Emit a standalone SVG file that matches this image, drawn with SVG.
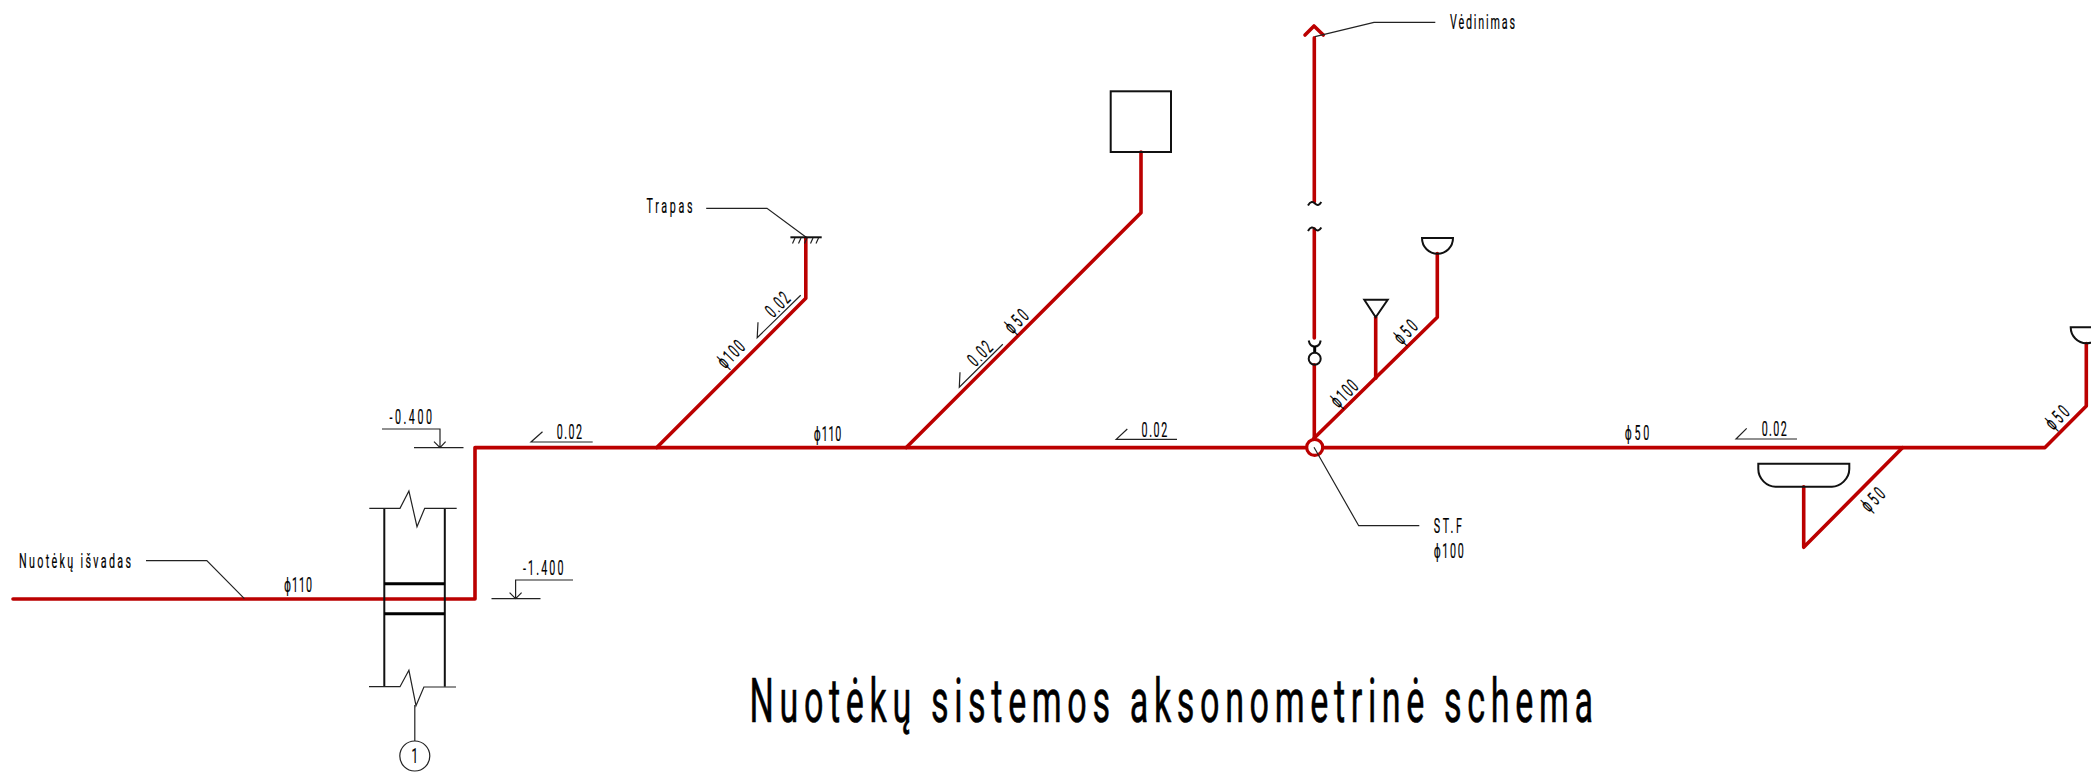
<svg xmlns="http://www.w3.org/2000/svg" width="2091" height="773" viewBox="0 0 2091 773">
<style>
.pipe{fill:none;stroke:#bb0000;stroke-width:3.6;stroke-linejoin:round;stroke-linecap:round}
.obj{fill:none;stroke:#111;stroke-width:2}
.thick{fill:none;stroke:#000;stroke-width:3}
.lead{fill:none;stroke:#222;stroke-width:1.2}
text{font-family:Roboto,"DejaVu Sans",sans-serif;font-size:19.5px;fill:#000;stroke:#000;stroke-width:.2}
.title{font-size:62px;stroke-width:.6}
</style>
<rect width="2091" height="773" fill="#fff"/>
<g id="connectors">
<path class="pipe" d="M13 599H475V447.6H1902.7H2045L2086.3 406V343.5"/>
<path class="pipe" d="M656.8 447.6L805.8 298.3V238"/>
<path class="pipe" d="M906.3 447.6L1141 212.7V152"/>
<path class="pipe" d="M1314.3 37.7V201.7M1314.3 229V338M1314.3 364.7V447.6"/>
<path class="pipe" d="M1305 35L1314 26L1323.3 35"/>
<path class="pipe" d="M1314 438.3L1437.3 317.3V253.5"/>
<path class="pipe" d="M1375.7 378.3V317.3"/>
<path class="pipe" d="M1902.7 447.6L1803.7 547.3V486.7"/>
<path class="lead" d="M146 560.7H206.8L244.4 598.7"/>
<path class="lead" d="M706.2 208.3H767L805.8 237"/>
<path class="lead" d="M1315 36.7L1374 22.3H1435.3"/>
<path class="lead" d="M1314 447.3L1358.7 525.7H1419.3"/>
<path class="lead" d="M414.8 705V741"/>
</g>
<g id="level-0400">
<path class="lead" d="M382 429H440V447.7M414 447.7H463.5M434 441.7L440 447.7L445.6 441.7"/>
<text transform="translate(389.5 424) scale(.55 1)" textLength="77.2">-0.400</text>
</g>
<g id="level-1400">
<path class="lead" d="M573 580H515.6V598.7M491.5 598.7H540.5M509.6 592.7L515.6 598.7L521.6 592.7"/>
<text transform="translate(523 575) scale(.55 1)" textLength="73.6">-1.400</text>
</g>
<g id="wall">
<path class="obj" d="M384.3 508.3V686.7M444.8 508.3V686.7"/>
<path class="lead" d="M369.3 508.3H400L408.9 491L417 526.7L424.7 508.3H456.7"/>
<path class="lead" d="M369 686.7H400L408.9 670.3L416 705.7L423.9 687H456"/>
<path class="thick" d="M384.3 583.7H444.8M384.3 613.7H444.8"/>
</g>
<g id="section-mark">
<circle class="lead" cx="414.8" cy="756" r="15"/>
<text transform="translate(414.8 763) scale(.6 1)" text-anchor="middle">1</text>
</g>
<g id="label-outlet">
<text transform="translate(19 567.7) scale(.55 1)" textLength="203.6">Nuotėkų išvadas</text>
<text transform="translate(284 591.7) scale(.55 1)" textLength="50.9">ϕ110</text>
</g>
<g id="slope-1">
<path class="lead" d="M542.5 431.7L531 442H592.7"/>
<text transform="translate(556.7 439.3) scale(.55 1)" textLength="46">0.02</text>
</g>
<g id="trap">
<path class="obj" d="M790.4 237.3H821.7"/>
<path class="lead" stroke-width="1.5" d="M795 238L792.5 243.5M801 238L798.5 243.5M807 238L804.5 243.5M813 238L810.5 243.5M818.5 238L816 243.5"/>
<text transform="translate(646.5 213.3) scale(.55 1)" textLength="83.6">Trapas</text>
<text transform="translate(730.7 354) rotate(-45) scale(.55 1)" y="7" text-anchor="middle" textLength="54.5">ϕ100</text>
<path class="lead" d="M758 322.3L757.2 337.7L800.7 295.3"/>
<text transform="translate(777.4 304.3) rotate(-45) scale(.55 1)" y="7" text-anchor="middle" textLength="47.3">0.02</text>
</g>
<g id="fixture-box">
<rect class="obj" x="1110.7" y="91.3" width="60.3" height="60.7"/>
<text transform="translate(1016.2 321) rotate(-45) scale(.55 1)" y="7" text-anchor="middle" textLength="45.5">ϕ50</text>
<path class="lead" d="M960 372.3L959.3 387.3L1002.8 344.3"/>
<text transform="translate(979.8 353.3) rotate(-45) scale(.55 1)" y="7" text-anchor="middle" textLength="47.3">0.02</text>
</g>
<g id="label-mid">
<text transform="translate(813.8 440.7) scale(.55 1)" textLength="50.2">ϕ110</text>
<path class="lead" d="M1127.3 429L1116.2 439.3H1177"/>
<text transform="translate(1141.5 436.7) scale(.55 1)" textLength="46.9">0.02</text>
</g>
<g id="vent">
<text transform="translate(1450 29.3) scale(.55 1)" textLength="118.1">Vėdinimas</text>
<path class="obj" d="M1308 205.5C1310.5 201 1313 201.5 1315 203.5C1317 205.5 1319 206 1321.3 202"/>
<path class="obj" d="M1308 231C1310.5 226.5 1313 227 1315 229C1317 231 1319 231.5 1321.3 227.5"/>
</g>
<g id="cleanout">
<path class="obj" d="M1308.7 340.5C1309.5 344.5 1312 346.5 1314.7 346.5C1317.5 346.5 1320 344.5 1320.7 340.5"/>
<path class="thick" d="M1314.7 346V353"/>
<circle class="obj" cx="1314.7" cy="358.7" r="6"/>
</g>
<g id="stack-joint">
<circle cx="1314.7" cy="447.4" r="8" fill="#fff" stroke="#bb0000" stroke-width="3.2"/>
<path class="lead" d="M1314 447.3L1319 456"/>
<text transform="translate(1433.7 533.3) scale(.55 1)" textLength="51.5">ST.F</text>
<text transform="translate(1433.7 558.3) scale(.55 1)" textLength="54.5">ϕ100</text>
</g>
<g id="funnel">
<path class="obj" d="M1364.3 299.7H1387.7L1375.7 317.3Z"/>
<text transform="translate(1344 393.3) rotate(-45) scale(.55 1)" y="7" text-anchor="middle" textLength="54.5">ϕ100</text>
</g>
<g id="bowl-1">
<path class="obj" d="M1422 238H1453C1453 247 1446 253.7 1437.5 253.7C1429 253.7 1422 247 1422 238Z"/>
<text transform="translate(1405.3 331.7) rotate(-45) scale(.55 1)" y="7" text-anchor="middle" textLength="45.5">ϕ50</text>
</g>
<g id="bowl-2">
<path class="obj" d="M2070.7 327.3H2102C2102 336 2095 343.3 2086.3 343.3C2077.7 343.3 2070.7 336 2070.7 327.3Z"/>
<text transform="translate(2057 417.3) rotate(-45) scale(.55 1)" y="7" text-anchor="middle" textLength="45.5">ϕ50</text>
</g>
<g id="basin">
<path class="obj" d="M1758.3 463.7H1849.3V469C1849.3 479 1840 486.7 1832 486.7H1775.5C1767 486.7 1758.3 479 1758.3 469Z"/>
<text transform="translate(1872.7 499.3) rotate(-45) scale(.55 1)" y="7" text-anchor="middle" textLength="45.5">ϕ50</text>
</g>
<g id="label-right">
<text transform="translate(1624.7 440) scale(.55 1)" textLength="44.8">ϕ50</text>
<path class="lead" d="M1746.7 428.3L1736 439H1797"/>
<text transform="translate(1761.7 436) scale(.55 1)" textLength="45.5">0.02</text>
</g>
<g id="title">
<text class="title" transform="translate(749.6 721.7) scale(.55 1)" textLength="1533.4">Nuotėkų sistemos aksonometrinė schema</text>
</g>
</svg>
